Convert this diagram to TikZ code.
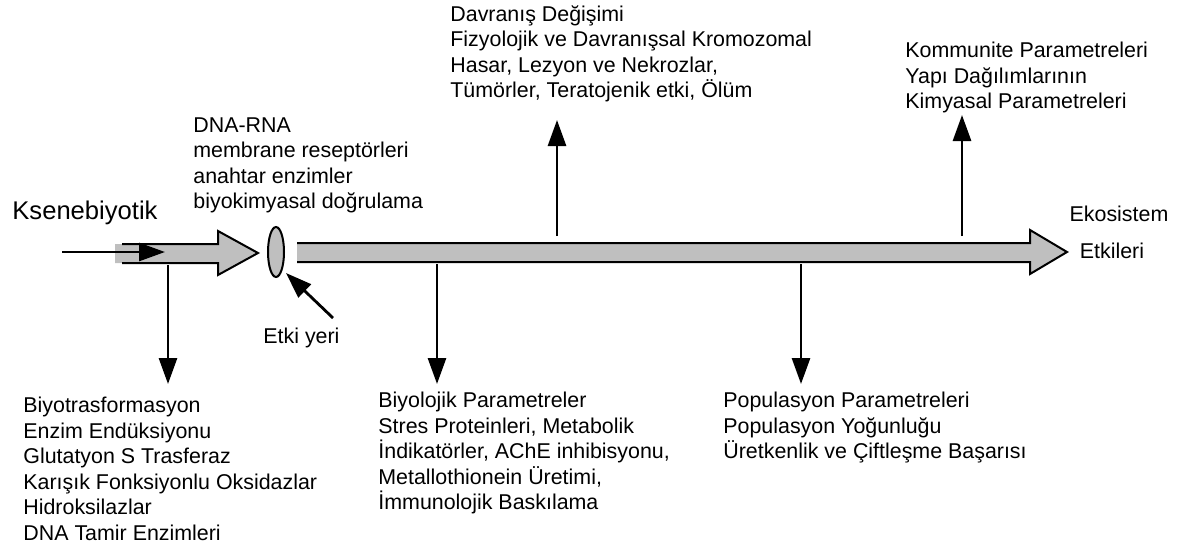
\documentclass[tikz,border=0pt]{standalone}
\usepackage{fontspec}
\setmainfont{Liberation Sans}
\usetikzlibrary{arrows.meta,shapes.geometric}
\begin{document}
\begin{tikzpicture}[x=0.5pt,y=-0.5pt,
  txt/.style={inner sep=0pt, anchor=north west, align=left, font=\fontsize{10.7pt}{12.75pt}\selectfont},
  conn/.style={line width=1.4pt, -{Triangle[length=13pt,width=9pt]}},
  band/.style={fill=black!25},
  bandline/.style={line width=1pt, line join=miter}]
\useasboundingbox (0,0) rectangle (1186,551);
% left block arrow
\fill[band] (115,244) -- (218,244) -- (218,231) -- (258,253) -- (218,275) -- (218,263) -- (115,263) -- cycle;
\draw[bandline] (122,244) -- (218,244) -- (218,231) -- (258,253) -- (218,275) -- (218,263) -- (122,263);
% long block arrow
\fill[band] (297,243) -- (1030,243) -- (1030,230) -- (1067,252) -- (1030,274) -- (1030,262) -- (297,262) -- cycle;
\draw[bandline] (297,243) -- (1030,243) -- (1030,230) -- (1067,252) -- (1030,274) -- (1030,262) -- (297,262);
% site of action
\node[ellipse, draw, fill=black!25, line width=1pt, minimum width=8pt, minimum height=25pt, inner sep=0pt] (site) at (276,252) {};
% texts
\node[font=\fontsize{12.8pt}{15pt}\selectfont, anchor=west, inner sep=0pt] (ksen) at (12,213) {Ksenebiyotik};
\node[txt] (dna) at (193,117) {DNA-RNA\\membrane reseptörleri\\anahtar enzimler\\biyokimyasal doğrulama};
\node[txt] (top1) at (450,5) {Davranış Değişimi\\Fizyolojik ve Davranışsal Kromozomal\\Hasar, Lezyon ve Nekrozlar,\\Tümörler, Teratojenik etki, Ölüm};
\node[txt] (top2) at (905,42) {Kommunite Parametreleri\\Yapı Dağılımlarının\\Kimyasal Parametreleri};
\node[txt, anchor=center] (eko1) at (1119,214) {Ekosistem};
\node[txt, anchor=center] (eko2) at (1112,251) {Etkileri};
\node[txt, anchor=west] (etki) at (263,338) {Etki yeri};
\node[txt] (bot1) at (23,397) {Biyotrasformasyon\\Enzim Endüksiyonu\\Glutatyon S Trasferaz\\Karışık Fonksiyonlu Oksidazlar\\Hidroksilazlar\\DNA Tamir Enzimleri};
\node[txt] (bot2) at (378,392) {Biyolojik Parametreler\\Stres Proteinleri, Metabolik\\İndikatörler, AChE inhibisyonu,\\Metallothionein Üretimi,\\İmmunolojik Baskılama};
\node[txt] (bot3) at (723,392) {Populasyon Parametreleri\\Populasyon Yoğunluğu\\Üretkenlik ve Çiftleşme Başarısı};
% connector coordinates
\coordinate (kin) at (62,252);
\coordinate (kend) at (165,252);
\coordinate (s1) at (168,265);
\coordinate (e1) at (168,384);
\coordinate (s2) at (437,264);
\coordinate (e2) at (437,384);
\coordinate (s3) at (557,236);
\coordinate (e3) at (557,120);
\coordinate (s4) at (801,264);
\coordinate (e4) at (801,384);
\coordinate (s5) at (962,236);
\coordinate (e5) at (962,115);
\coordinate (etail) at (333,318);
\coordinate (etip) at (286,273);
% connectors
\draw[conn] (kin) -- (kend);
\draw[conn] (s1) -- (e1);
\draw[conn] (s2) -- (e2);
\draw[conn] (s3) -- (e3);
\draw[conn] (s4) -- (e4);
\draw[conn] (s5) -- (e5);
\draw[conn] (etail) -- (etip);
\end{tikzpicture}
\end{document}
